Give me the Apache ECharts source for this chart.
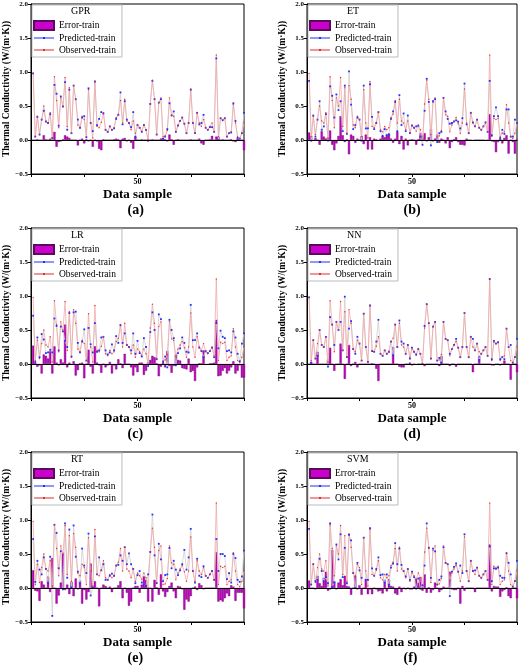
<!DOCTYPE html>
<html><head><meta charset="utf-8">
<script src="https://cdn.jsdelivr.net/npm/echarts@6/dist/echarts.min.js"></script>
<style>html,body{margin:0;padding:0;background:#fff}#c{width:520px;height:667px}</style>
</head><body><div id="c"></div>
<script>
const models = ['GPR','ET','LR','NN','RT','SVM'];
const captions = ['(a)','(b)','(c)','(d)','(e)','(f)'];
const observed = [0.98,0.05,0.35,0.08,0.30,0.50,0.28,0.25,0.40,0.03,
0.93,0.58,0.18,0.62,0.50,0.92,0.20,0.77,0.10,0.80,
0.60,0.22,0.18,0.35,0.30,0.05,0.74,0.25,0.03,0.86,
0.20,0.18,0.26,0.40,0.15,0.12,0.20,0.15,0.18,0.33,
0.38,0.58,0.25,0.60,0.28,0.25,0.15,0.28,0.10,0.22,
0.18,0.13,0.22,0.15,0.00,0.53,0.88,0.60,0.08,0.55,
0.62,0.05,0.06,0.14,0.62,0.37,0.35,0.12,0.22,0.28,
0.33,0.24,0.10,0.25,0.75,0.25,0.10,0.40,0.25,0.20,
0.30,0.18,0.15,0.20,0.25,0.12,1.25,0.05,0.32,0.30,
0.32,0.05,0.10,0.12,0.52,0.25,0.05,0.02,0.10,0.25];
const errGPR = [0,0,0.01,0,0,0.07,0.01,0,0.02,0, 0.12,-0.1,-0.03,-0.02,0.01,0.07,0.05,0.03,0,0, 0,-0.08,0,0.02,-0.05,0.01,-0.02,0,-0.1,0, -0.02,-0.13,-0.15,0.01,0,0,0,0,0.01,0.02, 0.01,-0.12,0.02,0.03,-0.02,0,-0.04,-0.13,0.05,0, 0,0.01,0,0,0.01,0,0.01,0,0,0, 0.02,0.03,0.01,-0.02,0.08,0.01,-0.07,0,0.01,0, 0,0,0,0,0.01,0,0,0,0.02,-0.05, -0.07,0,0,0.01,0.06,0,0.05,0.05,0,0.01, 0,0,0,0.01,-0.02,-0.03,0.02,0,0,-0.15];
const errET = [0.11,0.06,-0.01,0.03,0,-0.07,0.13,0.05,0.02,0.04, 0.14,-0.07,-0.15,-0.05,0.06,0.35,0.07,-0.03,0.01,-0.21, 0.08,0.06,-0.04,0.02,0,0.06,-0.06,0.08,-0.14,0.04, -0.14,0.02,0.01,-0.01,0.02,0.06,0.04,0.08,0.1,0.02, -0.04,0.02,0.12,-0.06,0.06,-0.14,0.02,-0.08,0,0.01, 0,-0.07,0.01,0.1,0.07,0.1,-0.02,0.04,0.16,-0.02, 0.02,0.08,-0.04,0.02,0,-0.05,0.04,-0.12,-0.03,0.01, 0.04,-0.03,-0.07,-0.07,-0.08,0.02,0,0,-0.01,0, 0,0,0,0,-0.01,0,0.38,-0.02,-0.03,-0.18, -0.03,0.02,-0.05,0.03,0.07,-0.2,0,-0.03,-0.2,0];
const errLR = [0.27,0.02,-0.04,-0.02,-0.14,0.14,0.12,0.08,0.19,-0.14, 0.26,0.02,-0.02,0.07,0.02,0.58,-0.05,0.02,-0.01,0.04, -0.17,-0.09,0.01,0.02,-0.21,0,0.21,-0.04,-0.14,0.26, 0.02,-0.02,-0.13,0,-0.05,-0.02,0.03,-0.14,-0.02,-0.08, 0.07,0.01,-0.06,0.15,0,0,-0.05,-0.17,-0.05,-0.12, 0.02,0.02,-0.16,-0.1,0.03,0.06,0.12,0.1,0.01,-0.18, -0.04,0.02,-0.05,0.19,-0.03,-0.13,-0.03,0.14,0.06,0.05, -0.06,-0.07,-0.08,0.08,-0.12,-0.1,-0.25,-0.05,0.01,0.01, 0.2,-0.01,-0.01,0.01,0.01,0.02,0.65,-0.18,-0.17,-0.1, -0.06,-0.14,-0.1,-0.05,0.04,-0.14,-0.1,-0.02,-0.2,-0.2];
const errNN = [0,0.03,0,0,0.18,0,0,0,0,0.07, 0.24,0,-0.1,0,0,0.3,0,-0.22,0,0.28, -0.03,0,0.03,-0.05,0,0,0,0,0,0, 0.01,0,-0.07,-0.25,0,0,0,0,0,0, 0.25,0,0,-0.04,-0.05,-0.05,0,0,0.02,-0.02, 0,-0.01,0,0,0,-0.03,0,0,0,0, 0,0,-0.03,0.12,0,0,0,-0.03,0,0, -0.04,0,0,0,0,0,0,0,-0.12,0, 0,0.12,0,0,0,0,0,-0.02,-0.02,0, 0,-0.02,0,0.05,0,0,-0.23,0,0,-0.12];
const errRT = [0.26,-0.04,-0.05,-0.19,0.1,0.05,0,0.17,-0.06,0.44, 0,-0.23,-0.11,0.08,0.52,-0.03,0.05,-0.09,0.09,-0.12, 0.14,-0.02,0.11,-0.23,-0.03,-0.17,-0.06,0.36,0.02,0.1, 0,-0.27,0,0.05,0.03,0,0.02,-0.06,0,0, 0.04,0.1,-0.15,0,-0.07,-0.26,-0.2,0,0.03,0.03, -0.07,0.05,0.17,0.12,-0.2,0,-0.2,0.12,0.01,-0.1, 0.2,-0.05,-0.13,-0.06,0.03,0.08,-0.05,-0.15,0.03,0.02, -0.02,-0.32,-0.17,-0.2,-0.12,0,0.02,-0.03,0.07,0.04, -0.02,0,0,0,0,0,0.53,-0.2,-0.18,-0.2, -0.15,-0.08,-0.12,0.04,0.02,-0.19,-0.07,-0.07,-0.07,-0.3];
const errSVM = [0.11,0,0,-0.02,0.18,0.07,0.03,0.15,0.24,-0.04, -0.02,0.56,0.1,-0.02,0.08,0.13,0.04,0.18,0.03,0.02, -0.1,0,0.18,-0.02,0.04,-0.1,0,0.13,-0.09,-0.02, -0.09,0,-0.02,-0.05,-0.04,-0.08,0.12,-0.05,0.13,0.03, 0.02,-0.08,-0.1,0.02,-0.06,0,-0.02,0,-0.02,-0.02, 0.02,0.14,0.08,0.16,-0.04,0.2,-0.07,0.01,-0.07,-0.03, 0.08,0,-0.06,-0.03,0.02,0,0,0.24,-0.02,-0.03, -0.03,0,-0.23,0.03,-0.04,0,0,0,0,-0.06, 0,0,0,0,0,0,0.64,-0.05,0.03,0.02, 0.02,-0.13,-0.05,-0.03,0.01,-0.12,-0.15,0,0,-0.15];
const errors = [errGPR, errET, errLR, errNN, errRT, errSVM];
const yTicks = [-0.5, 0.0, 0.5, 1.0, 1.5, 2.0];

const F = 'Liberation Serif';
const lefts = [31, 307], tops = [4, 228, 452], W = 213, H = 170;
const grid = [], xAxis = [], yAxis = [], series = [], legend = [], title = [], graphic = [];
models.forEach((m, k) => {
  const L = lefts[k % 2], T = tops[Math.floor(k / 2)];
  grid.push({left: L, top: T, width: W, height: H, show: true, borderColor: '#000', borderWidth: 1});
  xAxis.push({gridIndex: k, type: 'value', min: 0, max: 100, interval: 25,
    name: 'Data sample', nameLocation: 'middle', nameGap: 14,
    nameTextStyle: {fontFamily: F, fontWeight: 'bold', fontSize: 13, color: '#000'},
    axisLine: {onZero: false, lineStyle: {color: '#000'}}, axisTick: {length: 3, lineStyle: {color: '#000'}},
    splitLine: {show: false},
    axisLabel: {fontFamily: F, fontWeight: 'bold', fontSize: 8, color: '#000', margin: 4, formatter: v => v === 50 ? '50' : ''}});
  yAxis.push({gridIndex: k, type: 'value', min: yTicks[0], max: yTicks[yTicks.length - 1], interval: 0.5,
    name: 'Thermal Conductivity (W/(m·K))', nameLocation: 'middle', nameGap: 19,
    nameTextStyle: {fontFamily: F, fontWeight: 'bold', fontSize: 9.5, color: '#000'},
    axisLine: {show: true, lineStyle: {color: '#000'}}, axisTick: {length: 3, lineStyle: {color: '#000'}},
    splitLine: {show: false},
    axisLabel: {fontFamily: F, fontWeight: 'bold', fontSize: 7, color: '#000', margin: 3,
      formatter: v => (v < 0 ? '−' : '') + Math.abs(v).toFixed(1)}});
  const err = errors[k];
  series.push({name: 'Error-train', type: 'bar', xAxisIndex: k, yAxisIndex: k, barWidth: 2.2,
    data: err.map((e, i) => [i + 1, e]),
    itemStyle: {color: '#cc00cc', borderColor: '#5a0a5a', borderWidth: 0.4},
    markLine: {silent: true, symbol: 'none', label: {show: false}, lineStyle: {color: '#000', width: 1, type: 'solid'}, data: [{yAxis: 0}]}});
  series.push({name: 'Predicted-train', type: 'line', xAxisIndex: k, yAxisIndex: k,
    data: observed.map((o, i) => [i + 1, +(o - err[i]).toFixed(3)]),
    symbol: 'rect', symbolSize: 1.8, lineStyle: {color: '#cfcfcf', width: 0.8},
    itemStyle: {color: '#2030ff'}});
  series.push({name: 'Observed-train', type: 'line', xAxisIndex: k, yAxisIndex: k,
    data: observed.map((o, i) => [i + 1, o]),
    symbol: 'circle', symbolSize: 1.4, lineStyle: {color: '#f2a8a8', width: 0.8},
    itemStyle: {color: '#e03030'}});
  legend.push({left: L + 1, top: T + 1, orient: 'vertical', itemGap: 2, itemWidth: 20, itemHeight: 9,
    padding: [15, 6, 2, 1], borderColor: '#bbb', borderWidth: 1, backgroundColor: '#fff',
    textStyle: {fontFamily: F, fontSize: 9.5, color: '#000'},
    data: [{name: 'Error-train', icon: 'rect'},
      {name: 'Predicted-train', icon: 'path://M0,4.6H20V5.4H0Z M9,4H11V6H9Z'},
      {name: 'Observed-train', icon: 'path://M0,4.6H20V5.4H0Z M9,4H11V6H9Z'}]});
  title.push({text: m, left: L + 40, top: T + 2, padding: 0, z: 10,
    textStyle: {fontFamily: F, fontSize: 10, fontWeight: 'normal', color: '#000'}});
  graphic.push({type: 'text', left: L + W / 2 - 10, top: T + H + 29,
    style: {text: captions[k], font: 'bold 14px "Liberation Serif"', fill: '#000'}});
});
const chart = echarts.init(document.getElementById('c'));
chart.setOption({animation: false, grid, xAxis, yAxis, series, legend, title, graphic});
</script></body></html>
